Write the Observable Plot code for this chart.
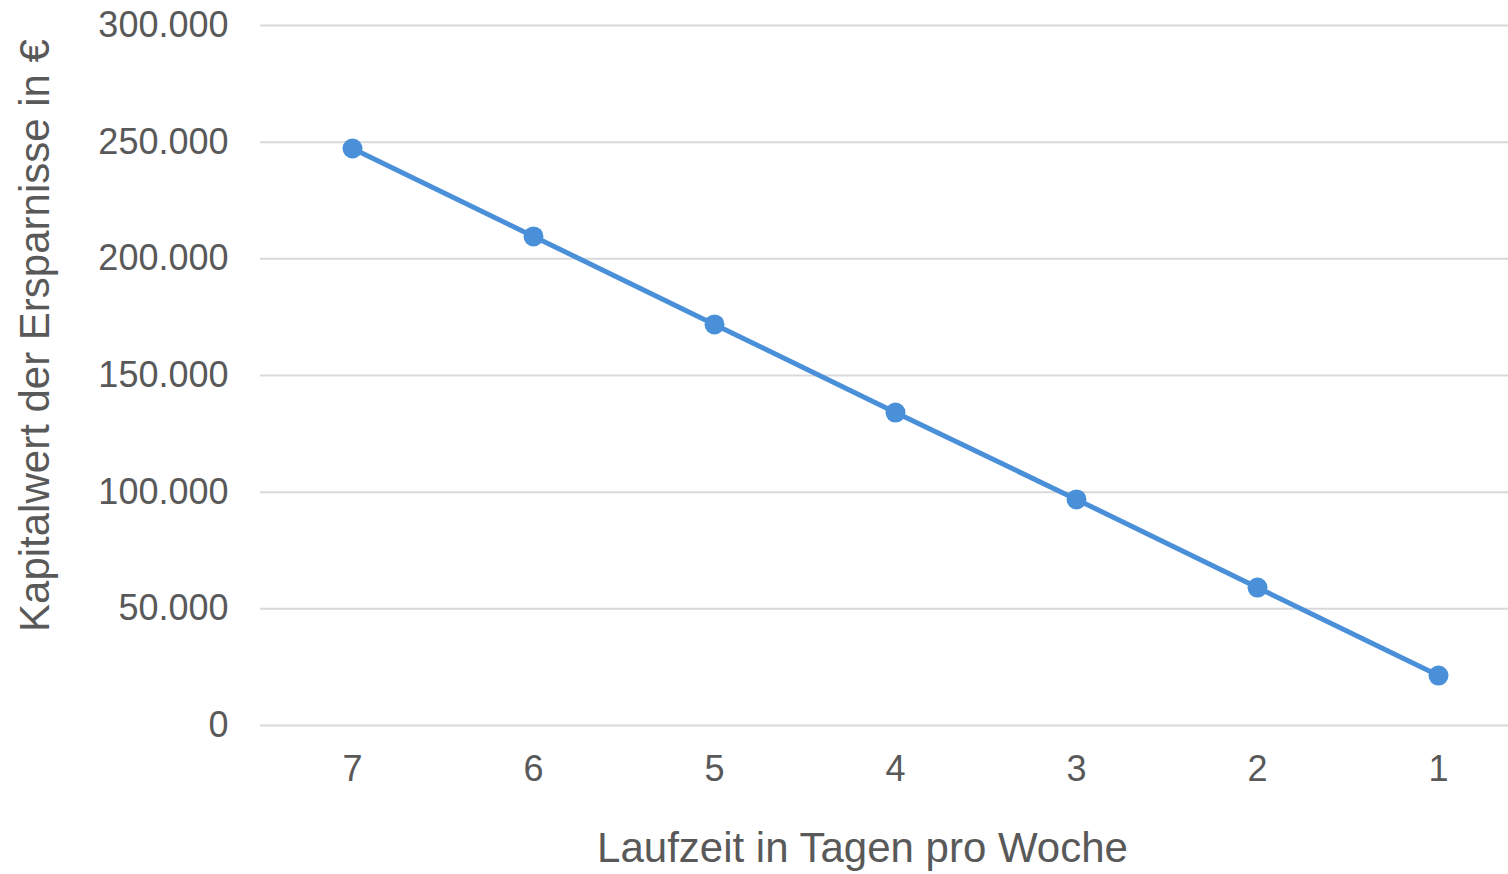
<!DOCTYPE html>
<html>
<head>
<meta charset="utf-8">
<script src="https://cdn.jsdelivr.net/npm/d3@7"></script>
<script src="https://cdn.jsdelivr.net/npm/@observablehq/plot@0.6"></script>
<style>
  html, body { margin: 0; padding: 0; background: #fff; }
  #chart svg { display: block; }
</style>
</head>
<body>
<div id="chart"></div>
<script>
// Data
const days = [7, 6, 5, 4, 3, 2, 1];
const values = [247300, 209600, 171900, 134100, 96900, 59100, 21400];
const yTicks = [0, 50000, 100000, 150000, 200000, 250000, 300000];
const xLabel = "Laufzeit in Tagen pro Woche";
const yLabel = "Kapitalwert der Ersparnisse in €";

const data = days.map((d, i) => ({day: d, value: values[i]}));
const de = d3.formatLocale({decimal: ",", thousands: ".", grouping: [3], currency: ["", " €"]});
const fmt = de.format(",");

const textColor = "#595959";
const lineColor = "#4a90d9";

const chart = Plot.plot({
  width: 1508,
  height: 874,
  marginLeft: 260,
  marginRight: 0,
  marginTop: 25,
  marginBottom: 149,
  style: {fontFamily: "'Liberation Sans', Arial, sans-serif", background: "#fff", color: textColor, overflow: "hidden"},
  x: {type: "point", domain: days, range: [260, 1529], padding: 0.5},
  y: {domain: [0, 300000]},
  marks: [
    Plot.ruleY(yTicks, {stroke: "#d9d9d9", strokeWidth: 2}),
    Plot.axisY({ticks: yTicks, tickFormat: fmt, tickSize: 0, tickPadding: 32, fontSize: 36, fill: textColor, label: null}),
    Plot.axisX({tickSize: 0, tickPadding: 30, fontSize: 36, fill: textColor, label: null}),
    Plot.line(data, {x: "day", y: "value", stroke: lineColor, strokeWidth: 5}),
    Plot.dot(data, {x: "day", y: "value", r: 10, fill: lineColor}),
    Plot.text([yLabel], {frameAnchor: "left", textAnchor: "middle", lineAnchor: "middle", rotate: -90, dx: -225, dy: -40, fontSize: 42, fill: textColor}),
    Plot.text([xLabel], {frameAnchor: "bottom", textAnchor: "middle", lineAnchor: "middle", dx: -22, dy: 123, fontSize: 42, fill: textColor})
  ]
});
document.getElementById("chart").appendChild(chart);
</script>
</body>
</html>
